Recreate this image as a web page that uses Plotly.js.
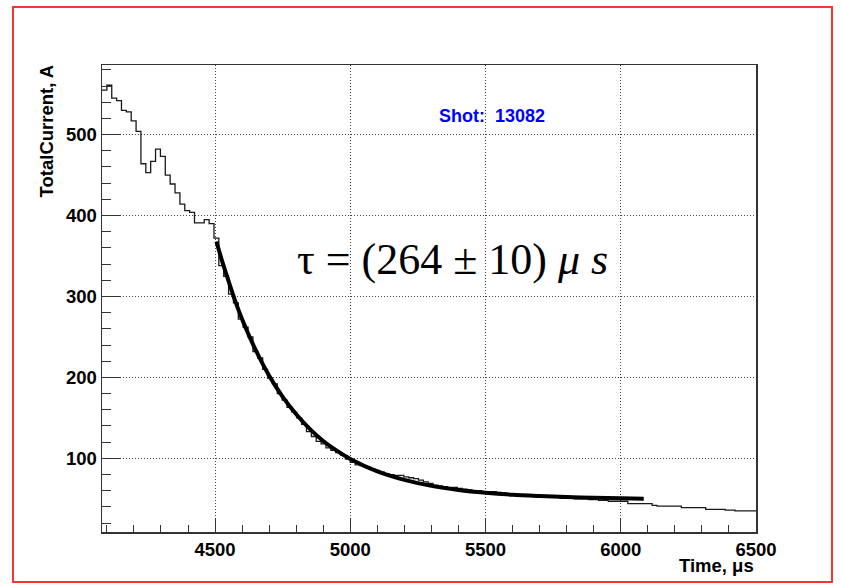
<!DOCTYPE html>
<html>
<head>
<meta charset="utf-8">
<script src="https://cdn.plot.ly/plotly-3.0.1.min.js"></script>
<style>
  html, body { margin: 0; padding: 0; background: #ffffff; }
  #chart { width: 842px; height: 587px; }
</style>
</head>
<body>
<div id="chart"></div>
<script>
// Histogram: left edge of each bin (µs) and its current (A)
const binStart = [
  4080, 4100, 4118, 4136, 4154, 4172, 4190, 4208, 4226, 4244,
  4262, 4280, 4298, 4316, 4334, 4352, 4370, 4388, 4406, 4424,
  4442, 4460, 4478, 4496, 4514, 4532, 4550, 4568, 4586, 4604,
  4622, 4640, 4658, 4676, 4694, 4712, 4730, 4748, 4766, 4784,
  4802, 4820, 4838, 4856, 4874, 4892, 4910, 4928, 4946, 4964,
  4982, 5000, 5018, 5036, 5054, 5072, 5090, 5108, 5126, 5144,
  5162, 5180, 5198, 5216, 5234, 5252, 5270, 5288, 5306, 5324,
  5342, 5360, 5378, 5396, 5414, 5432, 5450, 5468, 5486, 5504,
  5522, 5540, 5558, 5576, 5594, 5612, 5630, 5648, 5666, 5684,
  5702, 5720, 5738, 5756, 5774, 5792, 5810, 5828, 5846, 5864,
  5882, 5900, 5918, 5936, 5954, 6026, 6116, 6134, 6224, 6314,
  6386, 6422, 6500
];
const current = [
  555, 561, 545, 542, 530, 528, 517, 504, 464, 453,
  467, 482, 473, 450, 439, 428, 414, 406, 404, 391,
  391, 395, 390, 372, 338, 325, 303, 292, 272, 262,
  250, 232, 224, 210, 199, 192, 180, 172, 163, 157,
  150, 142, 133, 127, 121, 118, 113, 110, 107, 104,
  99, 95, 92, 91, 89, 87, 85, 83, 81, 80,
  79, 79, 77, 76, 75, 73, 71, 69, 67, 66,
  65, 64, 64, 63, 62, 61, 60, 60, 59, 59,
  59, 58, 57, 56, 55, 55, 54, 54, 53, 53,
  53, 52, 52, 52, 51, 51, 51, 50, 50, 50,
  49, 49, 48, 48, 47, 44, 42, 41, 39, 37,
  36, 35, 35
];

// Fit curve (µs, A)
const fitTime = [4505, 4525, 4550, 4575, 4600, 4650, 4700, 4750, 4800, 4850,
                 4900, 4950, 5000, 5100, 5200, 5300, 5400, 5500, 5600, 5700,
                 5800, 5900, 6000, 6085];
const fitCurrent = [368, 345, 319, 294, 272, 234, 202, 176, 154.5, 136.5,
                    121.5, 109.5, 99.3, 83.9, 73.4, 66, 61, 57.5, 55, 53.5,
                    52.3, 51.3, 50.6, 50.2];

// Tick labels / texts
const xTickVals = [4500, 5000, 5500, 6000, 6500];
const yTickVals = [100, 200, 300, 400, 500];
const shotLabel = "Shot:  13082";
const tauLabel = "τ = (264 ± 10) <i>μ s</i>";
const xTitle = "Time, μs";
const yTitle = "TotalCurrent, A";

const axisCol = '#333333';
const boldFont = {family: 'Liberation Sans, Arial, sans-serif', size: 18.5, color: '#000000', weight: 'bold'};

const traces = [
  {
    type: 'scatter', mode: 'lines',
    x: binStart, y: current,
    line: {shape: 'hv', color: '#1a1a1a', width: 1.3},
    hoverinfo: 'skip'
  },
  {
    type: 'scatter', mode: 'lines',
    x: fitTime, y: fitCurrent,
    line: {shape: 'spline', smoothing: 0.8, color: '#000000', width: 4},
    hoverinfo: 'skip'
  }
];

const axisCommon = {
  ticks: 'inside', tickcolor: axisCol, tickwidth: 1,
  showgrid: true, gridcolor: '#444444', griddash: '1px,2px', gridwidth: 1,
  showline: true, mirror: true, linecolor: axisCol, linewidth: 1.5,
  zeroline: false, tickfont: boldFont, fixedrange: true
};

const layout = {
  width: 842, height: 587,
  margin: {l: 102, r: 86, t: 65, b: 55, pad: 0},
  paper_bgcolor: '#ffffff', plot_bgcolor: '#ffffff',
  showlegend: false,
  xaxis: Object.assign({}, axisCommon, {
    range: [4082, 6500], tickmode: 'array', tickvals: xTickVals,
    ticklen: 14,
    minor: {dtick: 100, tick0: 4500, ticks: 'inside', ticklen: 7, tickcolor: axisCol, showgrid: false}
  }),
  yaxis: Object.assign({}, axisCommon, {
    range: [9, 586], tickmode: 'array', tickvals: yTickVals,
    ticklen: 19,
    minor: {dtick: 20, tick0: 0, ticks: 'inside', ticklen: 9, tickcolor: axisCol, showgrid: false}
  }),
  annotations: [
    {text: shotLabel, xref: 'paper', yref: 'paper', x: 0.5963, y: 0.8908,
     xanchor: 'center', yanchor: 'middle', showarrow: false,
     font: {family: 'Liberation Sans, Arial, sans-serif', size: 18, color: '#0000ff', weight: 'bold'}},
    {text: tauLabel, xref: 'paper', yref: 'paper', x: 0.5352, y: 0.5845,
     xanchor: 'center', yanchor: 'middle', showarrow: false,
     font: {family: 'Liberation Serif, Times New Roman, serif', size: 44, color: '#000000'}},
    {text: xTitle, xref: 'paper', yref: 'paper', x: 1.0, y: -0.0728,
     xanchor: 'right', yanchor: 'middle', showarrow: false, font: boldFont},
    {text: yTitle, xref: 'paper', yref: 'paper', x: -0.0845, y: 1.006,
     xanchor: 'center', yanchor: 'top', textangle: -90, showarrow: false, font: boldFont}
  ],
  shapes: [
    {type: 'rect', xref: 'paper', yref: 'paper',
     x0: -0.1361, x1: 1.1162, y0: -0.107, y1: 1.124,
     line: {color: '#ff3030', width: 2}, fillcolor: 'rgba(0,0,0,0)', layer: 'above'}
  ]
};

Plotly.newPlot('chart', traces, layout, {staticPlot: true, displayModeBar: false});
</script>
</body>
</html>
